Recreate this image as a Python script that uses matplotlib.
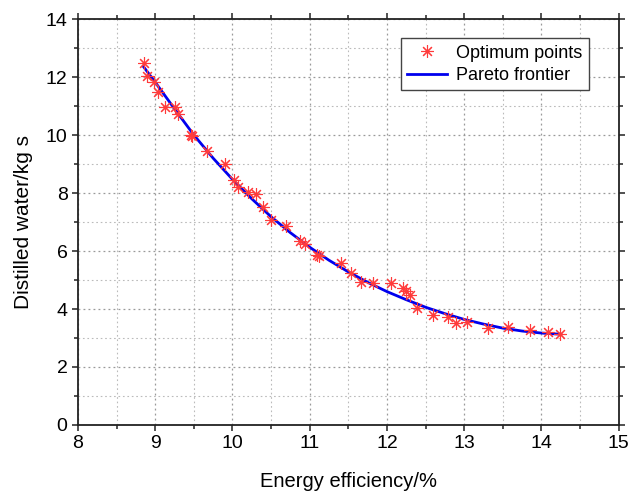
import matplotlib
matplotlib.use("Agg")
from matplotlib import pyplot as plt
from matplotlib.ticker import MultipleLocator

plt.rcParams['font.family'] = ['Liberation Sans', 'DejaVu Sans']

# optimum points
eff_pts = [8.85, 8.89, 8.99, 9.04, 9.13, 9.25, 9.29, 9.46, 9.48, 9.67, 9.90,
           10.02, 10.07, 10.20, 10.31, 10.40, 10.50, 10.69, 10.88, 10.94, 11.09,
           11.12, 11.40, 11.54, 11.67, 11.82, 12.05, 12.21, 12.24, 12.30, 12.39,
           12.60, 12.79, 12.89, 13.03, 13.31, 13.57, 13.85, 14.08, 14.24]
water_pts = [12.50, 12.05, 11.82, 11.49, 10.98, 10.96, 10.71, 10.00, 9.95, 9.45,
             8.99, 8.45, 8.22, 8.05, 7.97, 7.51, 7.07, 6.86, 6.36, 6.24, 5.86,
             5.83, 5.60, 5.23, 4.94, 4.89, 4.91, 4.71, 4.63, 4.48, 4.02,
             3.79, 3.71, 3.53, 3.56, 3.33, 3.37, 3.28, 3.22, 3.13]

# pareto frontier curve
eff_line = [8.85, 9.0, 9.25, 9.5, 9.75, 10.0, 10.25, 10.5, 10.75, 11.0, 11.25,
            11.5, 11.75, 12.0, 12.25, 12.5, 12.75, 13.0, 13.25, 13.5, 13.75,
            14.0, 14.25]
water_line = [12.35, 11.82, 10.90, 10.00, 9.20, 8.47, 7.80, 7.18, 6.63, 6.13,
              5.68, 5.28, 4.92, 4.60, 4.32, 4.06, 3.84, 3.64, 3.48, 3.34, 3.24,
              3.17, 3.13]

fig = plt.figure(figsize=(6.32, 4.98), dpi=100)
ax = fig.add_axes([0.1234, 0.1466, 0.8556, 0.8152])

ax.plot(eff_pts, water_pts, linestyle='none', marker=(8, 2, 0), markersize=9,
        markeredgewidth=0.8, color='#ff3b3b', label='Optimum points', zorder=3)
ax.plot(eff_line, water_line, color='#0000ee', linewidth=2, label='Pareto frontier',
        zorder=2)

ax.set_xlim(8, 15)
ax.set_ylim(0, 14)
ax.xaxis.set_major_locator(MultipleLocator(1))
ax.xaxis.set_minor_locator(MultipleLocator(0.5))
ax.yaxis.set_major_locator(MultipleLocator(2))
ax.yaxis.set_minor_locator(MultipleLocator(1))

ax.grid(which='major', linestyle=(0, (1.5, 2.5)), color='#999999', linewidth=0.9)
ax.grid(which='minor', linestyle=(0, (1.5, 2.5)), color='#bbbbbb', linewidth=0.8)
ax.set_axisbelow(True)

ax.tick_params(which='both', direction='out', top=True, right=True,
               labelsize=14, width=1.1, color='#222222')
ax.tick_params(which='major', length=4)
ax.tick_params(which='minor', length=3)
for s in ax.spines.values():
    s.set_linewidth(1.3)
    s.set_color('#222222')

ax.set_xlabel('Energy efficiency/%', fontsize=14.5, labelpad=14)
ax.set_ylabel('Distilled water/kg s', fontsize=15, labelpad=9)

ax.legend(loc='upper right', bbox_to_anchor=(0.961, 0.975), fontsize=13,
          fancybox=False, edgecolor='#444444', framealpha=1, handlelength=2.2,
          handletextpad=0.5, borderpad=0.35, labelspacing=0.3)

fig.savefig('out.png', dpi=100)
